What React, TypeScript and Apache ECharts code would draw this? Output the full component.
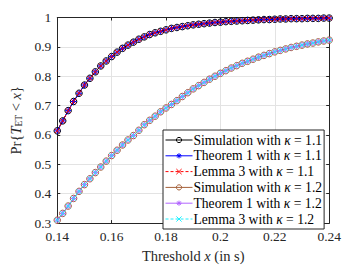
import React, { useEffect, useRef } from "react";
import * as echarts from "echarts";

const thresholds = [
  0.14, 0.142, 0.144, 0.146, 0.148, 0.15, 0.152, 0.154, 0.156, 0.158,
  0.16, 0.162, 0.164, 0.166, 0.168, 0.17, 0.172, 0.174, 0.176, 0.178,
  0.18, 0.182, 0.184, 0.186, 0.188, 0.19, 0.192, 0.194, 0.196, 0.198,
  0.2, 0.202, 0.204, 0.206, 0.208, 0.21, 0.212, 0.214, 0.216, 0.218,
  0.22, 0.222, 0.224, 0.226, 0.228, 0.23, 0.232, 0.234, 0.236, 0.238, 0.24,
];

const cdfKappa11 = [
  0.614, 0.648, 0.683, 0.714, 0.742, 0.77, 0.793, 0.815, 0.835, 0.852,
  0.867, 0.882, 0.895, 0.906, 0.916, 0.926, 0.934, 0.942, 0.948, 0.953,
  0.958, 0.963, 0.966, 0.969, 0.972, 0.975, 0.977, 0.979, 0.981, 0.983,
  0.984, 0.986, 0.987, 0.988, 0.989, 0.99, 0.991, 0.992, 0.993, 0.993,
  0.994, 0.995, 0.995, 0.996, 0.996, 0.996, 0.997, 0.997, 0.997, 0.998, 0.998,
];

const cdfKappa12 = [
  0.31, 0.333, 0.358, 0.384, 0.408, 0.431, 0.451, 0.472, 0.491, 0.511,
  0.53, 0.548, 0.566, 0.583, 0.598, 0.616, 0.635, 0.65, 0.664, 0.679,
  0.692, 0.704, 0.717, 0.731, 0.744, 0.757, 0.768, 0.779, 0.79, 0.8,
  0.81, 0.819, 0.828, 0.836, 0.844, 0.851, 0.858, 0.865, 0.871, 0.877,
  0.883, 0.888, 0.893, 0.898, 0.902, 0.906, 0.91, 0.913, 0.917, 0.92, 0.923,
];

const seriesNames = [
  "Simulation with κ = 1.1",
  "Theorem 1 with κ = 1.1",
  "Lemma 3 with κ = 1.1",
  "Simulation with κ = 1.2",
  "Theorem 1 with κ = 1.2",
  "Lemma 3 with κ = 1.2",
];

const xTicks = [0.14, 0.16, 0.18, 0.2, 0.22, 0.24];

const FONT = "'Liberation Serif', 'DejaVu Serif', serif";
const AXIS_COLOR = "#262626";
const ASTERISK = "path://M0,-1L0,1M-1,0L1,0M-0.7,-0.7L0.7,0.7M-0.7,0.7L0.7,-0.7";
const CROSS = "path://M-1,-1L1,1M-1,1L1,-1";

function pairs(ys: number[]) {
  return thresholds.map((x, i) => [x, ys[i]]);
}

function makeSeries(name: string, ys: number[], color: string, kind: "sim" | "thm" | "lem") {
  const base: any = {
    name,
    type: "line",
    data: pairs(ys),
    showSymbol: true,
    symbolKeepAspect: true,
    lineStyle: { color, width: 1, type: kind === "lem" ? [3, 2] : "solid" },
    emphasis: { disabled: true },
  };
  if (kind === "sim") {
    base.symbol = "circle";
    base.symbolSize = 6.5;
    base.itemStyle = { color: "rgba(0,0,0,0)", borderColor: color, borderWidth: 1 };
  } else if (kind === "thm") {
    base.symbol = ASTERISK;
    base.symbolSize = 6;
    base.itemStyle = { color: color, borderColor: color, borderWidth: 1 };
  } else {
    base.symbol = CROSS;
    base.symbolSize = 4.5;
    base.itemStyle = { color: color, borderColor: color, borderWidth: 1 };
  }
  return base;
}

export default function App() {
  const ref = useRef<HTMLDivElement>(null);
  useEffect(() => {
    if (!ref.current) return;
    const chart = echarts.init(ref.current, undefined, { renderer: "svg" });
    const axisCommon = {
      axisLine: { show: true, lineStyle: { color: AXIS_COLOR, width: 1 } },
      axisTick: { show: true, inside: true, length: 3, lineStyle: { color: AXIS_COLOR } },
    };
    chart.setOption({
      animation: false,
      grid: { left: 51.5, right: 11, top: 17.5, bottom: 38.5, containLabel: false },
      legend: {
        orient: "vertical",
        left: 163,
        top: 130,
        backgroundColor: "#ffffff",
        borderColor: AXIS_COLOR,
        borderWidth: 1,
        padding: [3, 2, 3, 2],
        itemGap: 1.8,
        itemWidth: 27,
        itemHeight: 6.5,
        data: seriesNames,
        lineStyle: { width: 1 },
        itemStyle: { borderWidth: 1 },
        textStyle: {
          fontFamily: FONT,
          fontSize: 13.6,
          color: "#000",
          lineHeight: 13,
          padding: [0, 0, 0, -4],
          rich: { k: { fontFamily: FONT, fontStyle: "italic", fontSize: 13.6 } },
        },
        formatter: (n: string) => n.replace("κ", "{k|κ}"),
      },
      xAxis: [
        {
          type: "value",
          min: 0.14,
          max: 0.24,
          interval: 0.02,
          position: "bottom",
          ...axisCommon,
          splitLine: { show: true, lineStyle: { color: "#e3e3e3", width: 1 } },
          axisLabel: {
            fontFamily: FONT,
            fontSize: 13.5,
            color: AXIS_COLOR,
            margin: 6,
            formatter: (v: number) => {
              const t = xTicks.find((x) => Math.abs(x - v) < 1e-9);
              return t === undefined ? "" : String(t);
            },
          },
          name: "Threshold {i|x} (in s)",
          nameLocation: "middle",
          nameGap: 20,
          nameTextStyle: {
            fontFamily: FONT,
            fontSize: 14.5,
            color: AXIS_COLOR,
            rich: { i: { fontFamily: FONT, fontStyle: "italic", fontSize: 14.5 } },
          },
        },
        {
          type: "value",
          min: 0.14,
          max: 0.24,
          interval: 0.02,
          position: "top",
          ...axisCommon,
          splitLine: { show: false },
          axisLabel: { show: false },
        },
      ],
      yAxis: [
        {
          type: "value",
          min: 0.3,
          max: 1,
          interval: 0.1,
          position: "left",
          ...axisCommon,
          splitLine: { show: true, lineStyle: { color: "#e3e3e3", width: 1 } },
          axisLabel: {
            fontFamily: FONT,
            fontSize: 13.5,
            color: AXIS_COLOR,
            margin: 6,
            formatter: (v: number) => String(Math.round(v * 10) / 10),
          },
          name: "{r|Pr{}{i|T}{s|ET}{r| < }{i|x}{r|}}",
          nameLocation: "middle",
          nameRotate: 90,
          nameGap: 24,
          nameTextStyle: {
            fontFamily: FONT,
            fontSize: 14.5,
            color: AXIS_COLOR,
            rich: {
              r: { fontFamily: FONT, fontSize: 14.5, color: AXIS_COLOR },
              i: { fontFamily: FONT, fontSize: 14.5, fontStyle: "italic", color: AXIS_COLOR },
              s: { fontFamily: FONT, fontSize: 9.5, color: AXIS_COLOR, verticalAlign: "bottom", padding: [6, 0, 0, 0] },
            },
          },
        },
        {
          type: "value",
          min: 0.3,
          max: 1,
          interval: 0.1,
          position: "right",
          ...axisCommon,
          splitLine: { show: false },
          axisLabel: { show: false },
        },
      ],
      series: [
        makeSeries(seriesNames[0], cdfKappa11, "#000000", "sim"),
        makeSeries(seriesNames[1], cdfKappa11, "#0000ff", "thm"),
        makeSeries(seriesNames[2], cdfKappa11, "#ff0000", "lem"),
        makeSeries(seriesNames[3], cdfKappa12, "#a5613a", "sim"),
        makeSeries(seriesNames[4], cdfKappa12, "#b266ff", "thm"),
        makeSeries(seriesNames[5], cdfKappa12, "#1ff0ff", "lem"),
      ],
    });
    return () => chart.dispose();
  }, []);
  return <div ref={ref} style={{ width: 344, height: 268, position: "absolute", left: 0, top: 0 }} />;
}
